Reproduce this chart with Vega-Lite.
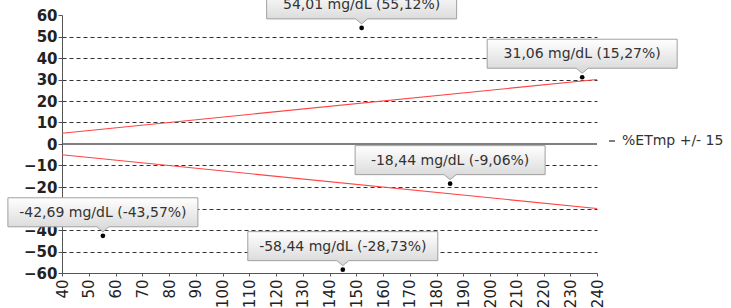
{
  "$schema": "https://vega.github.io/schema/vega-lite/v6.json",
  "width": 535,
  "height": 258,
  "autosize": "none",
  "padding": {"left": 62, "top": 15, "right": 134, "bottom": 35},
  "background": "white",
  "config": {
    "view": {"stroke": null},
    "font": "DejaVu Sans"
  },
  "datasets": {
    "points": [
      {"measured": 152.01, "diff": 54.01, "label": "54,01 mg/dL (55,12%)"},
      {"measured": 234.46, "diff": 31.06, "label": "31,06 mg/dL (15,27%)"},
      {"measured": 185.09, "diff": -18.44, "label": "-18,44 mg/dL (-9,06%)"},
      {"measured": 55.29, "diff": -42.69, "label": "-42,69 mg/dL (-43,57%)"},
      {"measured": 144.97, "diff": -58.44, "label": "-58,44 mg/dL (-28,73%)"}
    ],
    "limits": [
      {"measured": 40, "diff": 5, "series": "upper"},
      {"measured": 240, "diff": 30, "series": "upper"},
      {"measured": 40, "diff": -5, "series": "lower"},
      {"measured": 240, "diff": -30, "series": "lower"}
    ],
    "zero": [{"diff": 0}]
  },
  "encoding": {
    "x": {
      "field": "measured", "type": "quantitative",
      "scale": {"domain": [40, 240], "nice": false, "zero": false},
      "axis": {
        "title": null, "grid": false,
        "values": [40,50,60,70,80,90,100,110,120,130,140,150,160,170,180,190,200,210,220,230,240],
        "labelAngle": -90, "labelFontSize": 15, "labelColor": "#222", "labelPadding": 3,
        "tickSize": 3, "tickColor": "#555", "domainColor": "#555", "labelFlush": false, "labelOverlap": false
      }
    },
    "y": {
      "field": "diff", "type": "quantitative",
      "scale": {"domain": [-60, 60], "nice": false},
      "axis": {
        "title": null,
        "values": [-60,-50,-40,-30,-20,-10,0,10,20,30,40,50,60],
        "labelFontSize": 15, "labelFontWeight": "bold", "labelColor": "#222", "labelPadding": 1,
        "tickSize": 4, "tickColor": "#555", "domainColor": "#555", "labelFlush": false, "labelOverlap": false,
        "grid": true, "gridColor": "#333", "gridDash": [4, 3],
        "gridOpacity": {"condition": {"test": "abs(datum.value) >= 60 || datum.value == 0", "value": 0}, "value": 1}
      }
    }
  },
  "layer": [
    {
      "data": {"name": "zero"},
      "mark": {"type": "rule", "strokeWidth": 1.5},
      "encoding": {
        "x": null,
        "color": {
          "datum": "%ETmp +/- 15",
          "scale": {"range": ["#555555"]},
          "legend": {
            "title": null, "orient": "none", "legendX": 543, "legendY": 119,
            "symbolType": "stroke", "symbolSize": 36, "symbolStrokeWidth": 1.5,
            "labelFontSize": 14, "labelColor": "#333", "labelOffset": 3, "labelFont": "DejaVu Sans"
          }
        }
      }
    },
    {
      "data": {"name": "limits"},
      "mark": {"type": "line", "color": "#ff4444", "strokeWidth": 1.2},
      "encoding": {"detail": {"field": "series"}}
    },
    {
      "data": {"name": "points"},
      "mark": {
        "type": "point", "filled": true, "size": 40000, "opacity": 1,
        "shape": "M-0.95,-0.38 L0.95,-0.38 L0.95,-0.09 L0.06,-0.09 L0,-0.04 L-0.06,-0.09 L-0.95,-0.09 Z",
        "fill": {"gradient": "linear", "x1": 0, "y1": 0, "x2": 0, "y2": 1,
          "stops": [{"offset": 0, "color": "#ffffff"}, {"offset": 1, "color": "#d6d6d6"}]},
        "stroke": "#a0a0a0", "strokeWidth": 1
      }
    },
    {
      "data": {"name": "points"},
      "mark": {"type": "text", "dy": -23, "fontSize": 14, "color": "#333", "font": "DejaVu Sans"},
      "encoding": {"text": {"field": "label"}}
    },
    {
      "data": {"name": "points"},
      "mark": {"type": "circle", "size": 22, "color": "#000", "opacity": 1}
    }
  ]
}
